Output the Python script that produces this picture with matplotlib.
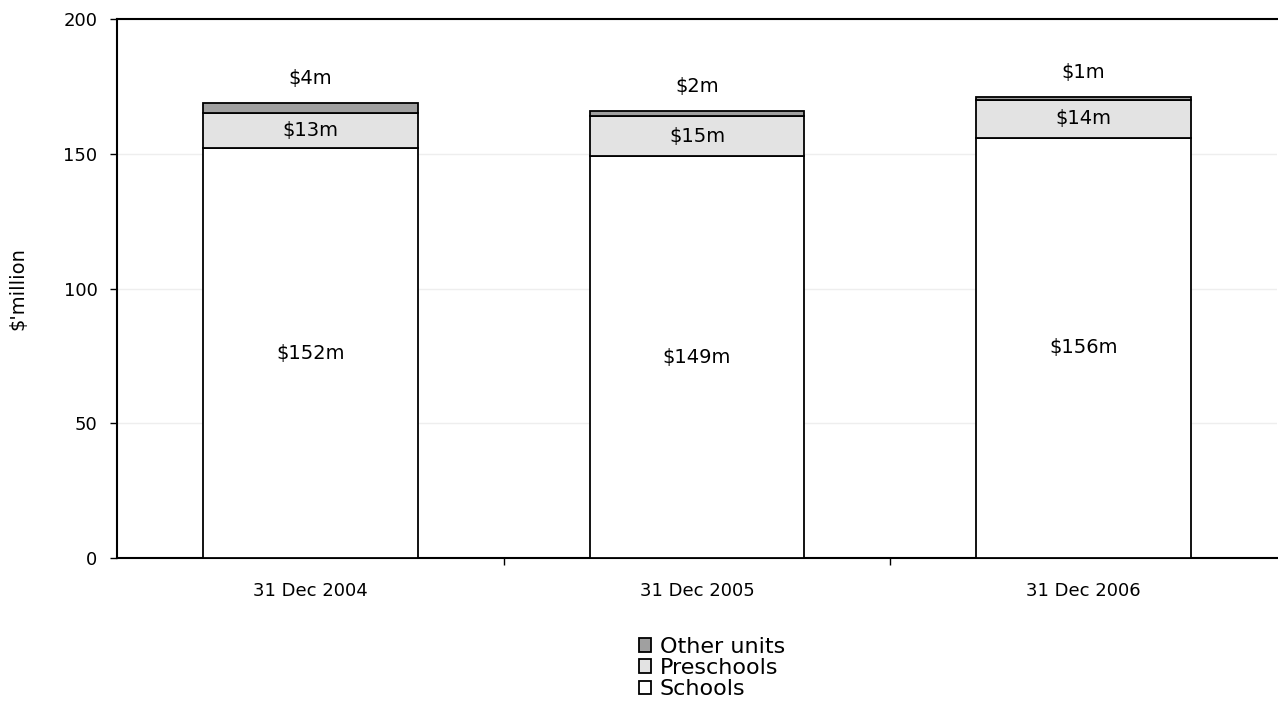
import numpy as np
import matplotlib.pyplot as plt

dates = ["31 Dec 2004", "31 Dec 2005", "31 Dec 2006"]
schools = [152, 149, 156]
preschools = [13, 15, 14]
other_units = [4, 2, 1]

plt.rcParams['font.family'] = ['DejaVu Sans']

fig = plt.figure(figsize=(12.78, 7.11), dpi=100)
ax = fig.add_axes([117/1278, 1 - 558/711, (1277 - 117)/1278, (558 - 19)/711])

x = np.arange(len(dates))
w = 0.556
schools = np.array(schools)
preschools = np.array(preschools)
other_units = np.array(other_units)

b1 = ax.bar(x, schools, w, color="white", edgecolor="black", linewidth=1.3, label="Schools", zorder=3)
b2 = ax.bar(x, preschools, w, bottom=schools, color="#e3e3e3", edgecolor="black", linewidth=1.3,
            label="Preschools", zorder=3)
b3 = ax.bar(x, other_units, w, bottom=schools + preschools, color="#a0a0a0", edgecolor="black",
            linewidth=1.3, label="Other units", zorder=3)

# value labels: schools in the middle, preschools in their band, other units above the bar
for i in range(len(dates)):
    ax.text(x[i], schools[i] / 2, "$%dm" % schools[i], ha="center", va="center", fontsize=14)
    ax.text(x[i], schools[i] + preschools[i] / 2, "$%dm" % preschools[i], ha="center", va="center", fontsize=14)
    top = schools[i] + preschools[i] + other_units[i]
    ax.text(x[i], top + 9, "$%dm" % other_units[i], ha="center", va="center", fontsize=14)

ax.set_xlim(-0.5, 2.5)
ax.set_ylim(0, 200)
ax.set_yticks([0, 50, 100, 150, 200])
ax.tick_params(axis="y", labelsize=13, length=5, width=1, direction="out", pad=9)
ax.set_xticks(x)
ax.set_xticklabels(dates)
ax.tick_params(axis="x", labelsize=13, length=0, pad=17)
ax.set_xticks([0.5, 1.5], minor=True)
ax.tick_params(axis="x", which="minor", length=5, width=1, direction="out")
ax.yaxis.grid(True, color="#eeeeee", linewidth=1, zorder=0)
ax.set_axisbelow(True)

for s in ["left", "bottom", "top"]:
    ax.spines[s].set_linewidth(1.5)
ax.spines["right"].set_visible(False)

ax.set_ylabel("$'million", fontsize=14, labelpad=26)

handles = [b3, b2, b1]
fig.legend(handles, ["Other units", "Preschools", "Schools"], loc="center",
           bbox_to_anchor=(712/1278, 1 - 668/711), frameon=False, fontsize=16,
           handlelength=0.55, handleheight=0.55, handletextpad=0.4, labelspacing=0.05)

plt.savefig("out.png", dpi=100)
